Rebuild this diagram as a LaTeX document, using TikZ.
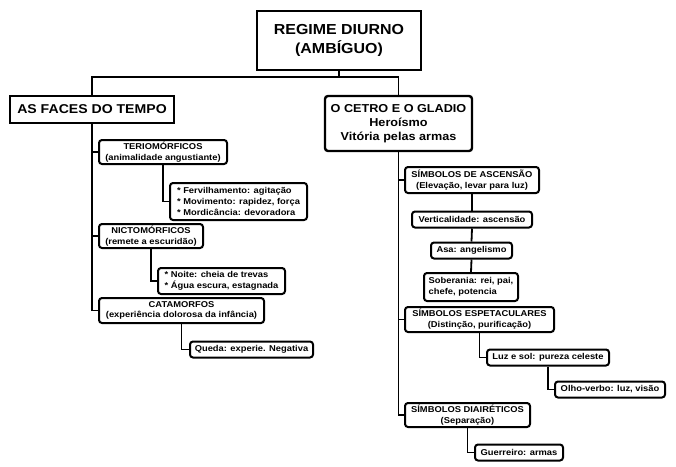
\documentclass[tikz,border=0pt]{standalone}
\usepackage{fontspec}
\setmainfont{Liberation Sans}[FakeStretch=1.1]
\usetikzlibrary{calc}

\begin{document}
\begin{tikzpicture}[x=1pt,y=-1pt,
    box/.style={draw,line width=2pt,rounded corners=3pt,inner sep=0pt,align=center,
      font=\bfseries\fontsize{8.5}{10.8}\selectfont},
    sz/.style 2 args={minimum width=#1pt,minimum height=#2pt},
    lnk/.style={line width=1.8pt}]
  \useasboundingbox (0,0) rectangle (676,466);
  % topo
  \node[box,sz={164}{59},rounded corners=0pt,line width=2.4pt,font=\bfseries\fontsize{14.5}{19.5}\selectfont](reg)at(339,40.5){REGIME DIURNO\\(AMBÍGUO)};
  \node[box,sz={164}{27},rounded corners=0pt,line width=2.4pt,font=\bfseries\fontsize{12.8}{14}\selectfont](faces)at(92,109.5){AS FACES DO TEMPO};
  \node[box,sz={147}{55},line width=2.4pt,font=\bfseries\fontsize{11.5}{14}\selectfont](cetro)at(398.5,123.5){O CETRO E O GLADIO\\Heroísmo\\Vitória pelas armas};
  \coordinate (j)at(339,77);
  \draw[lnk] (reg.south) -- (j);
  \draw[lnk] (faces.north) |- (j) -| (cetro.north);
  % lado esquerdo
  \node[box,sz={128}{24}](teri)at(163,152){TERIOMÓRFICOS\\(animalidade angustiante)};
  \node[box,sz={137}{37},align=left](terisub)at(238.5,201.5){* Fervilhamento: agitação\\* Movimento: rapidez, força\\* Mordicância: devoradora};
  \node[box,sz={104}{24}](nicto)at(151,236){NICTOMÓRFICOS\\(remete a escuridão)};
  \node[box,sz={127}{26},align=left](nictosub)at(221.5,281){* Noite: cheia de trevas\\* Água escura, estagnada};
  \node[box,sz={165}{25}](cata)at(181.5,310.5){CATAMORFOS\\(experiência dolorosa da infância)};
  \node[box,sz={123}{16}](queda)at(251.5,349.5){Queda: experie. Negativa};
  \draw[lnk] (faces.south) |- (teri.west);
  \draw[lnk] (faces.south) |- (nicto.west);
  \draw[lnk] (faces.south) |- (cata.west);
  \draw[lnk] (teri.south) |- (terisub.west);
  \draw[lnk] (nicto.south) |- (nictosub.west);
  \draw[lnk] (cata.south) |- (queda.west);
  % lado direito
  \node[box,sz={134}{26}](asc)at(472,180){SÍMBOLOS DE ASCENSÃO\\(Elevação, levar para luz)};
  \node[box,sz={120}{16}](vert)at(472,219.5){Verticalidade: ascensão};
  \node[box,sz={81}{16}](asa)at(471.5,250.5){Asa: angelismo};
  \node[box,sz={94}{28},align=left](sob)at(471,287){Soberania: rei, pai,\\chefe, potencia};
  \node[box,sz={149}{25}](esp)at(479.5,319.5){SÍMBOLOS ESPETACULARES\\(Distinção, purificação)};
  \node[box,sz={122}{16}](luz)at(548,357.5){Luz e sol: pureza celeste};
  \node[box,sz={110}{16}](olho)at(610,389.5){Olho-verbo: luz, visão};
  \node[box,sz={125}{24}](diai)at(467.5,415){SÍMBOLOS DIAIRÉTICOS\\(Separação)};
  \node[box,sz={88}{16}](guer)at(519,452.5){Guerreiro: armas};
  \draw[lnk] (cetro.south) |- (asc.west);
  \draw[lnk] (cetro.south) |- (esp.west);
  \draw[lnk] (cetro.south) |- (diai.west);
  \draw[lnk] (asc.south) -- (vert.north);
  \draw[lnk] (vert.south) -- (asa.north);
  \draw[lnk] (asa.south) -- (sob.north);
  \draw[lnk] (esp.south) |- (luz.west);
  \draw[lnk] (luz.south) |- (olho.west);
  \draw[lnk] (diai.south) |- (guer.west);
\end{tikzpicture}
\end{document}
